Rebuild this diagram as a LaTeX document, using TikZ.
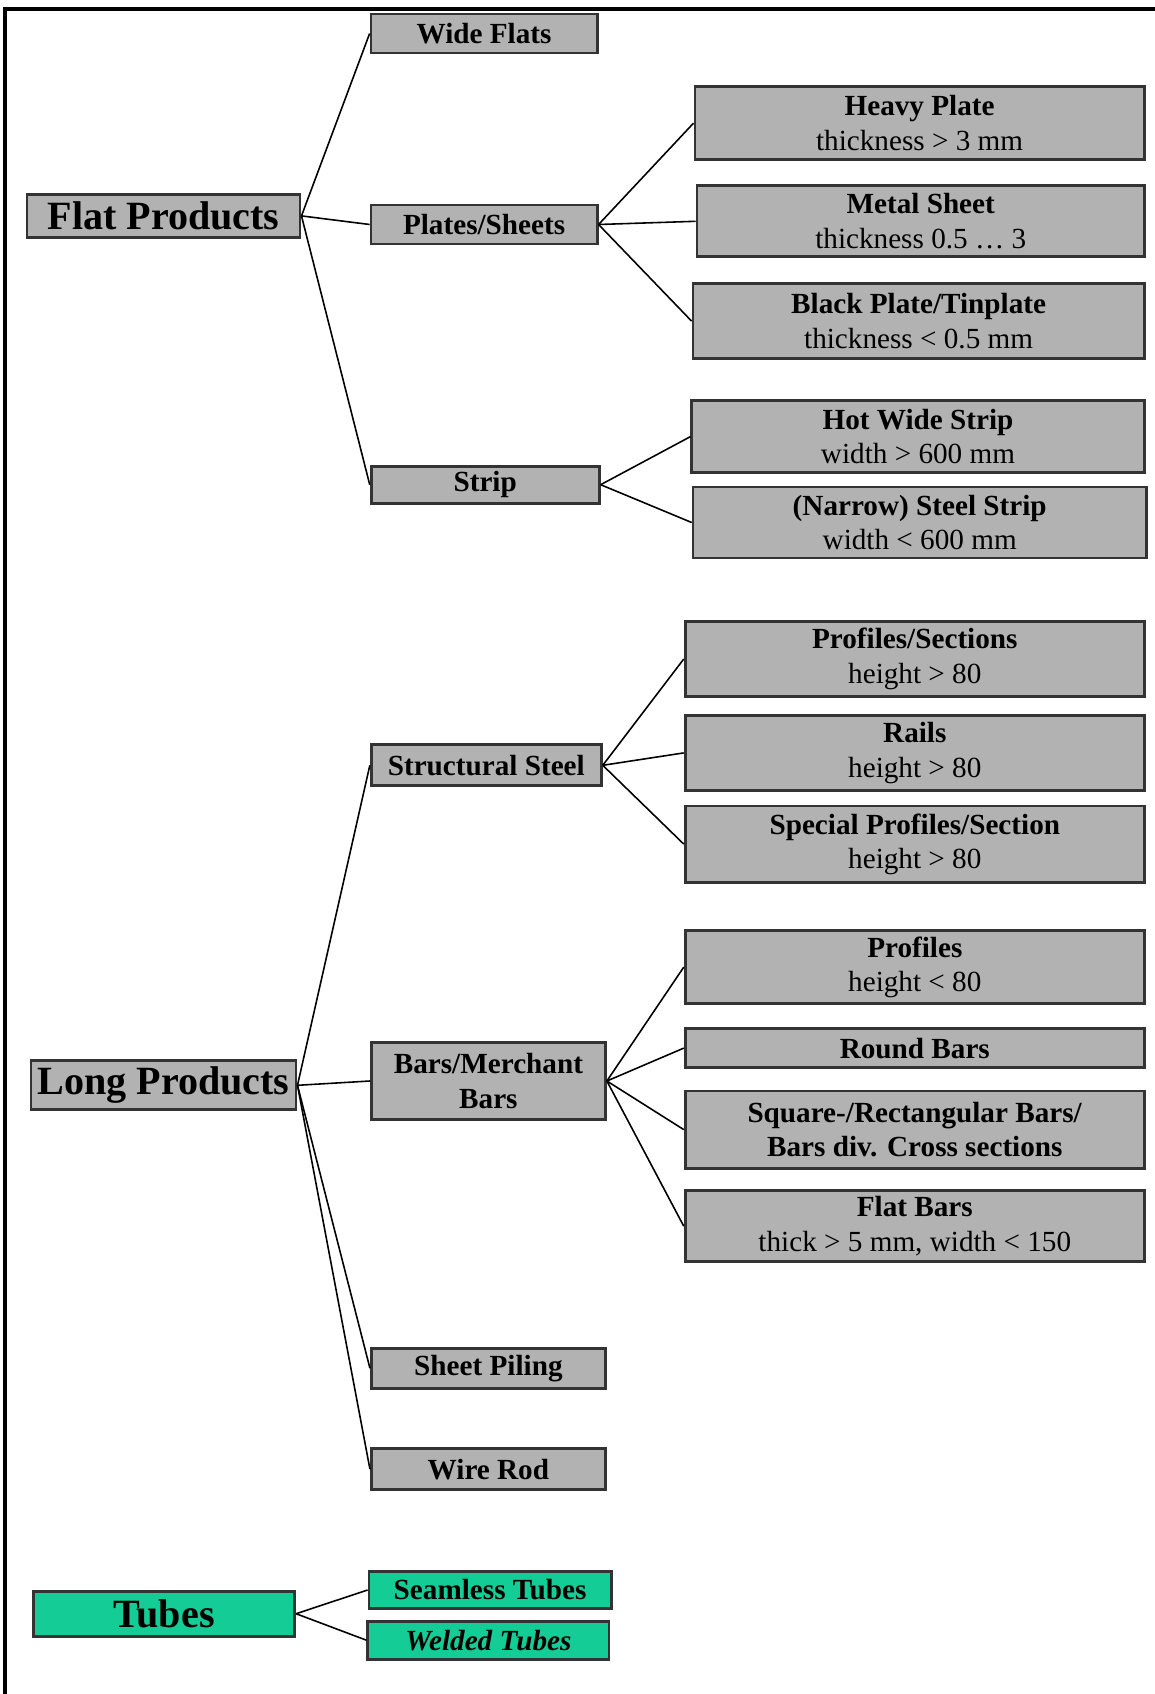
\documentclass[tikz,border=0pt]{standalone}
\usepackage{fontspec}
\setmainfont{Liberation Serif}
\definecolor{boxgray}{RGB}{178,178,178}
\definecolor{tubegreen}{RGB}{20,204,150}

\begin{document}
\begin{tikzpicture}[x=0.01cm,y=-0.01cm]
\tikzstyle{every node}+=[inner sep=0pt]
\tikzstyle{box}=[draw=black!80,line width=0.8pt,fill=boxgray,align=center,font=\fontsize{8.3}{9.8}\selectfont]
\tikzstyle{main}=[box,font=\fontsize{11.4}{13}\selectfont\bfseries]
\tikzstyle{tube}=[fill=tubegreen]
\tikzstyle{link}=[black,line width=0.45pt]
\useasboundingbox (0,0) rectangle (1155,1694);
\draw [black,line width=0.9pt] (5,1694) -- (5,9) -- (1155,9);
\node [main,minimum width=2.73cm,minimum height=0.43cm] (flat) at (163.5,215.9) {Flat Products};
\node [box,minimum width=2.26cm,minimum height=0.39cm] (wide) at (484.1,33.5) {\textbf{Wide Flats}};
\node [box,minimum width=2.26cm,minimum height=0.39cm] (plates) at (484.1,224.5) {\textbf{Plates/Sheets}};
\node [box,minimum width=2.28cm,minimum height=0.37cm] (strip) at (485.2,484.7) {\textbf{Strip}};
\node [box,minimum width=4.49cm,minimum height=0.73cm] (heavy) at (919.6,123.1) {\textbf{Heavy Plate}\\thickness > 3 mm};
\node [box,minimum width=4.47cm,minimum height=0.71cm] (metal) at (920.7,221.3) {\textbf{Metal Sheet}\\thickness 0.5 … 3};
\node [box,minimum width=4.51cm,minimum height=0.75cm] (black) at (918.6,321.1) {\textbf{Black Plate/Tinplate}\\thickness < 0.5 mm};
\node [box,minimum width=4.52cm,minimum height=0.72cm] (hot) at (918,436.6) {\textbf{Hot Wide Strip}\\width > 600 mm};
\node [box,minimum width=4.53cm,minimum height=0.71cm] (narrow) at (919.7,522.5) {\textbf{(Narrow) Steel Strip}\\width < 600 mm};
\draw [link] (flat.east) -- (wide.west);
\draw [link] (flat.east) -- (plates.west);
\draw [link] (flat.east) -- (strip.west);
\draw [link] (plates.east) -- (heavy.west);
\draw [link] (plates.east) -- (metal.west);
\draw [link] (plates.east) -- (black.west);
\draw [link] (strip.east) -- (hot.west);
\draw [link] (strip.east) -- (narrow.west);
\node [main,minimum width=2.65cm,minimum height=0.49cm] (long) at (163.5,1085.3) {Long Products};
\node [box,minimum width=2.30cm,minimum height=0.41cm] (struct) at (486.3,765.3) {\textbf{Structural Steel}};
\node [box,minimum width=4.59cm,minimum height=0.75cm] (sections) at (914.8,659) {\textbf{Profiles/Sections}\\height > 80};
\node [box,minimum width=4.59cm,minimum height=0.75cm] (rails) at (914.8,752.9) {\textbf{Rails}\\height > 80};
\node [box,minimum width=4.59cm,minimum height=0.76cm] (special) at (914.8,844.1) {\textbf{Special Profiles/Section}\\height > 80};
\node [box,minimum width=2.34cm,minimum height=0.77cm] (bars) at (488.4,1081) {\textbf{Bars/Merchant}\\\textbf{Bars}};
\node [box,minimum width=4.59cm,minimum height=0.73cm] (profiles) at (914.8,967.1) {\textbf{Profiles}\\height < 80};
\node [box,minimum width=4.59cm,minimum height=0.39cm] (round) at (914.8,1048.1) {\textbf{Round Bars}};
\node [box,minimum width=4.59cm,minimum height=0.77cm] (square) at (914.8,1129.6) {\textbf{Square-/Rectangular Bars/}\\\textbf{Bars div. Cross sections}};
\node [box,minimum width=4.59cm,minimum height=0.71cm] (flatbars) at (914.8,1226.2) {\textbf{Flat Bars}\\thick > 5 mm, width < 150};
\node [box,minimum width=2.34cm,minimum height=0.40cm] (piling) at (488.4,1368.2) {\textbf{Sheet Piling}};
\node [box,minimum width=2.34cm,minimum height=0.41cm] (wire) at (488.4,1469.1) {\textbf{Wire Rod}};
\draw [link] (long.east) -- (struct.west);
\draw [link] (long.east) -- (bars.west);
\draw [link] (long.east) -- (piling.west);
\draw [link] (long.east) -- (wire.west);
\draw [link] (struct.east) -- (sections.west);
\draw [link] (struct.east) -- (rails.west);
\draw [link] (struct.east) -- (special.west);
\draw [link] (bars.east) -- (profiles.west);
\draw [link] (bars.east) -- (round.west);
\draw [link] (bars.east) -- (square.west);
\draw [link] (bars.east) -- (flatbars.west);
\node [main,tube,minimum width=2.61cm,minimum height=0.45cm] (tubes) at (164.1,1613.7) {Tubes};
\node [box,tube,minimum width=2.42cm,minimum height=0.37cm] (seamless) at (490.1,1590) {\textbf{Seamless Tubes}};
\node [box,tube,minimum width=2.41cm,minimum height=0.38cm] (welded) at (488.4,1640.2) {\textbf{\itshape Welded Tubes}};
\draw [link] (tubes.east) -- (seamless.west);
\draw [link] (tubes.east) -- (welded.west);
\end{tikzpicture}
\end{document}
